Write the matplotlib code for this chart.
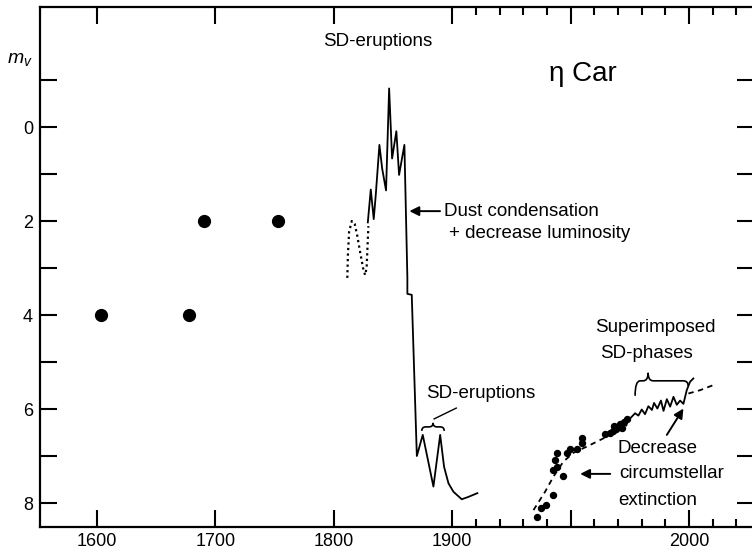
import numpy as np
import matplotlib
matplotlib.use("Agg")
import matplotlib.pyplot as plt
from matplotlib.path import Path
from matplotlib.patches import PathPatch
from matplotlib.transforms import IdentityTransform

plt.rcParams['font.family'] = ['Liberation Sans', 'DejaVu Sans']
plt.rcParams['mathtext.fontset'] = 'custom'
plt.rcParams['mathtext.it'] = 'Liberation Sans:italic'
plt.rcParams['mathtext.rm'] = 'Liberation Sans'

# --- historical naked-eye estimates ---
early_years = [1603, 1678, 1690, 1753]
early_mags = [4.0, 4.0, 2.0, 2.0]

# --- uncertain early variation (dotted) ---
early_curve_years = [1811.4, 1811.9, 1812.9, 1815.2, 1817.6, 1819.7, 1822.2,
                     1824.7, 1826.4, 1827.7, 1828.5, 1829.2]
early_curve_mags = [3.21, 2.72, 2.23, 2.00, 2.06, 2.30, 2.66,
                    3.00, 3.15, 3.00, 2.51, 2.11]

# --- great eruption and decline ---
eruption_years = [1828.7, 1831.2, 1833.7, 1835.4, 1838.5, 1840.8, 1844.1,
                  1846.7, 1849.2, 1852.8, 1855.1, 1859.6, 1862.1, 1862.1,
                  1865.8, 1870.1, 1875.1, 1884.1, 1889.8, 1893.1, 1896.8,
                  1900.5, 1904.0, 1906.8, 1910.6]
eruption_mags = [2.03, 1.33, 1.96, 1.45, 0.38, 0.88, 1.35,
                 -0.82, 0.67, 0.09, 1.02, 0.38, 3.20, 3.55,
                 3.57, 7.00, 6.55, 7.65, 6.55, 7.23, 7.58,
                 7.76, 7.92, 7.87, 7.79]

# --- 20th century photometry ---
modern_years = [1935.7, 1937.4, 1939.6, 1942.7, 1946.9, 1942.5, 1944.1,
                1943.4, 1944.4, 1948.4, 1949.8, 1952.6, 1954.7, 1954.7,
                1964.5, 1966.4, 1967.8, 1969.2, 1970.3, 1970.9, 1972.6,
                1973.7, 1968.4, 1971.7]
modern_mags = [8.29, 8.11, 8.04, 7.83, 7.43, 7.30, 7.23,
               7.09, 6.94, 6.94, 6.84, 6.84, 6.73, 6.62,
               6.53, 6.50, 6.47, 6.43, 6.38, 6.31, 6.27,
               6.22, 6.36, 6.40]

# --- recent light curve with superimposed SD phases ---
recent_years = [1973.7, 1975.1, 1977.2, 1978.6, 1980.0, 1981.4, 1982.8,
                1984.3, 1985.2, 1986.6, 1988.1, 1989.2, 1990.6, 1992.0,
                1993.4, 1994.8, 1996.2, 1997.6, 1999.0, 2000.4, 2001.8]
recent_mags = [6.22, 6.20, 6.09, 6.14, 6.01, 6.11, 5.94,
               6.02, 5.87, 5.99, 5.82, 6.04, 5.79, 5.95,
               5.74, 5.91, 5.82, 5.89, 5.60, 5.42, 5.35]

# --- extinction-decrease trend (dashed) ---
trend_years_a = [1934.3, 1939.2, 1942.7, 1946.9, 1951.2, 1956.8, 1962.4, 1968.0, 1973.8]
trend_mags_a = [8.15, 7.76, 7.44, 7.12, 6.93, 6.80, 6.66, 6.52, 6.34]
trend_years_b = [1999.7, 2004.6, 2010.3]
trend_mags_b = [5.67, 5.60, 5.49]

x_major = [1600, 1700, 1800, 1900, 1950, 2000]
x_major_labels = ['1600', '1700', '1800', '1900', '', '2000']
x_minor = [1910, 1920, 1930, 1940, 1960, 1970, 1980, 1990, 2010, 2020]
y_major = [0, 2, 4, 6, 8]
y_minor = [-1, 1, 3, 5, 7]


def fwd(x):
    x = np.asarray(x, dtype=float)
    return np.where(x < 1900, x, 1900 + 2.0 * (x - 1900))


def inv(t):
    t = np.asarray(t, dtype=float)
    return np.where(t < 1900, t, 1900 + (t - 1900) / 2.0)


W, H = 752, 551
fig = plt.figure(figsize=(W / 100, H / 100), dpi=100)
ax = fig.add_axes([40 / W, 24 / H, 714 / W, 520 / H])
ax.set_xscale('function', functions=(fwd, inv))
ax.set_xlim(1551.9, 2027.4)
ax.set_ylim(8.51, -2.553)

for s in ax.spines.values():
    s.set_linewidth(1.6)

ax.set_xticks(x_major)
ax.set_xticklabels(x_major_labels)
ax.set_xticks(x_minor, minor=True)
ax.set_yticks(y_major)
ax.set_yticklabels([str(v) for v in y_major])
ax.set_yticks(y_minor, minor=True)
ax.tick_params(which='both', direction='in', top=True, right=True,
               width=1.5, labelsize=13)
ax.tick_params(axis='both', which='major', length=12)
ax.tick_params(axis='x', which='minor', length=6)
ax.tick_params(axis='y', which='minor', length=12)
ax.tick_params(axis='x', which='major', pad=4)
ax.tick_params(axis='y', which='major', pad=5)

# data
ax.plot(early_years, early_mags, 'o', color='black', markersize=8.5)
ax.plot(early_curve_years, early_curve_mags, color='black', lw=1.6,
        linestyle=(0, (1, 1.5)))
ax.plot(eruption_years, eruption_mags, color='black', lw=1.3)
ax.plot(trend_years_a, trend_mags_a, color='black', lw=1.3, dashes=[3, 2.5])
ax.plot(trend_years_b, trend_mags_b, color='black', lw=1.3, dashes=[3, 2.5])
ax.plot(modern_years, modern_mags, 'o', color='black', markersize=4.3)
ax.plot(recent_years, recent_mags, color='black', lw=1.3)

fig.canvas.draw()


def to_px(x, y):
    return ax.transData.transform((x, y))


def brace(x0, x1, xm, y, hook_l, hook_r, bump, d):
    """Horizontal curly brace, tips down, bump up (sizes in pixels)."""
    (a, yy) = to_px(x0, y)
    (b, _) = to_px(x1, y)
    (m, _) = to_px(xm, y)
    verts = [(a, yy - hook_l), (a, yy), (a + d, yy), (m - d, yy),
             (m, yy), (m, yy + bump), (m, yy), (m + d, yy),
             (b - d, yy), (b, yy), (b, yy - hook_r)]
    codes = [Path.MOVETO, Path.CURVE3, Path.CURVE3, Path.LINETO,
             Path.CURVE3, Path.CURVE3, Path.CURVE3, Path.CURVE3,
             Path.LINETO, Path.CURVE3, Path.CURVE3]
    p = PathPatch(Path(verts, codes), fill=False, lw=1.2, edgecolor='black',
                  transform=IdentityTransform())
    fig.add_artist(p)


arrow_kw = dict(arrowstyle='-|>', color='black', lw=1.4,
                mutation_scale=14, shrinkA=0, shrinkB=0)
fs = 13.5

ax.text(1837.4, -1.81, 'SD-eruptions', ha='center', va='center', fontsize=fs)
ax.text(1955.3, -1.12, 'η Car', ha='center', va='center', fontsize=20)

ax.annotate('', xy=(1863.8, 1.79), xytext=(1889.7, 1.79), arrowprops=arrow_kw)
ax.text(1893.1, 1.79, 'Dust condensation', ha='left', va='center', fontsize=fs)
ax.text(1897.0, 2.26, '+ decrease luminosity', ha='left', va='center', fontsize=fs)

ax.text(1877.9, 5.66, 'SD-eruptions', ha='left', va='center', fontsize=fs)
brace(1874.3, 1893.2, 1883.8, 6.38, 4, 4, 4, 4)
ax.plot([1884.7, 1901.7], [6.21, 5.98], color='black', lw=1.0)

ax.text(1985.7, 4.26, 'Superimposed', ha='center', va='center', fontsize=fs)
ax.text(1981.9, 4.81, 'SD-phases', ha='center', va='center', fontsize=fs)
brace(1977.2, 1999.6, 1982.7, 5.40, 15, 5, 8, 5)

ax.annotate('', xy=(1997.6, 5.99), xytext=(1990.6, 6.55), arrowprops=arrow_kw)
ax.text(1969.6, 6.85, 'Decrease', ha='left', va='center', fontsize=fs)
ax.text(1970.4, 7.38, 'circumstellar', ha='left', va='center', fontsize=fs)
ax.text(1970.0, 7.94, 'extinction', ha='left', va='center', fontsize=fs)
ax.annotate('', xy=(1954.0, 7.38), xytext=(1966.7, 7.38), arrowprops=arrow_kw)

fig.text(20 / W, 1 - 60 / H, r'$m_v$', ha='center', va='center', fontsize=14)

fig.savefig('out.png', dpi=100)
